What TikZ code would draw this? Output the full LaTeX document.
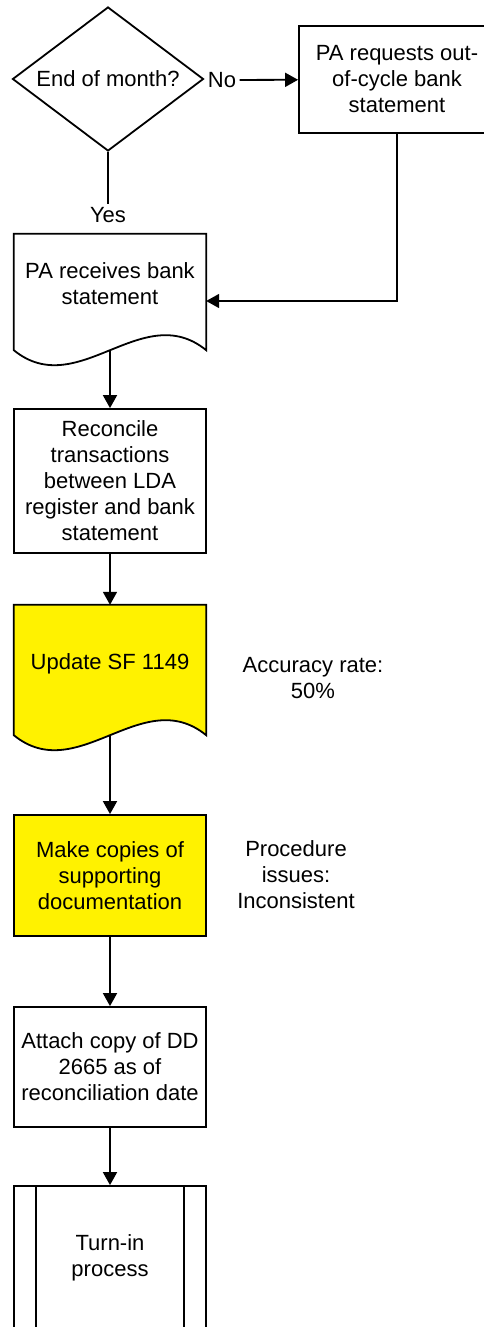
\documentclass[tikz,border=0pt]{standalone}
\usepackage{fontspec}
\setmainfont{Liberation Sans}
\usetikzlibrary{shapes.geometric,arrows.meta,backgrounds}

\tikzset{
  box/.style={draw, line width=1.8pt, minimum width=192pt, inner sep=0pt, align=center},
  doc/.style={inner sep=0pt, minimum width=192pt, align=center, text depth=16pt},
  arr/.style={line width=1.8pt, -{Triangle[width=14pt,length=13pt]}},
  note/.style={align=center},
}
% document shape: outline with wavy bottom, drawn behind the node text
\newcommand{\docshape}[2]{%
  \begin{pgfonlayer}{background}
  \filldraw[line width=1.8pt, fill=#2] (#1.north west) -- (#1.north east) -- (#1.south east)
    .. controls +(-64,-52) and +(64,52) .. (#1.south west) -- cycle;
  \end{pgfonlayer}}

\begin{document}
\begin{tikzpicture}[x=1pt, y=-1pt, font=\fontsize{22}{26}\selectfont]
  \useasboundingbox (0,0) rectangle (484,1327);
  \clip (0,0) rectangle (484,1327);

  \node[diamond, draw, line width=1.8pt, aspect=1.33, inner sep=0pt,
        minimum width=191pt, minimum height=144pt] (dec) at (108,79) {End of month?};
  \node (no) at (222,80) {No};
  \node[box, minimum width=196pt, minimum height=107pt] (req) at (397,79.5)
    {PA requests out-\\of-cycle bank\\statement};
  \node (yes) at (108,215) {Yes};

  \node[doc, minimum height=116pt] (recv) at (110,292) {PA receives bank\\statement};
  \docshape{recv}{white}
  \node[box, minimum height=144pt] (rec) at (110,481)
    {Reconcile\\transactions\\between LDA\\register and bank\\statement};
  \node[doc, minimum height=130pt] (upd) at (110,670) {Update SF 1149};
  \docshape{upd}{yellow}
  \node[box, fill=yellow, minimum height=121pt] (copies) at (110,875.5)
    {Make copies of\\supporting\\documentation};
  \node[box, minimum height=120pt] (att) at (110,1067)
    {Attach copy of DD\\2665 as of\\reconciliation date};
  \node[box, minimum height=144pt] (tin) at (110,1258) {Turn-in\\process};
  \draw[line width=1.8pt] ([xshift=23pt]tin.north west) -- ([xshift=23pt]tin.south west)
    ([xshift=-23pt]tin.north east) -- ([xshift=-23pt]tin.south east);

  \node[note] (acc) at (313,678) {Accuracy rate:\\50\%};
  \node[note] (proc) at (296,875) {Procedure\\issues:\\Inconsistent};

  \draw[line width=1.8pt] (dec.south) -- (yes.north);
  \draw[arr] (no) -- (req);
  \draw[arr] (req.south) |- ([yshift=-9pt]recv.east);
  \foreach \a/\b in {recv/rec, rec/upd, upd/copies, copies/att, att/tin}
    \draw[arr] (\a.south) -- (\b.north);
\end{tikzpicture}
\end{document}
